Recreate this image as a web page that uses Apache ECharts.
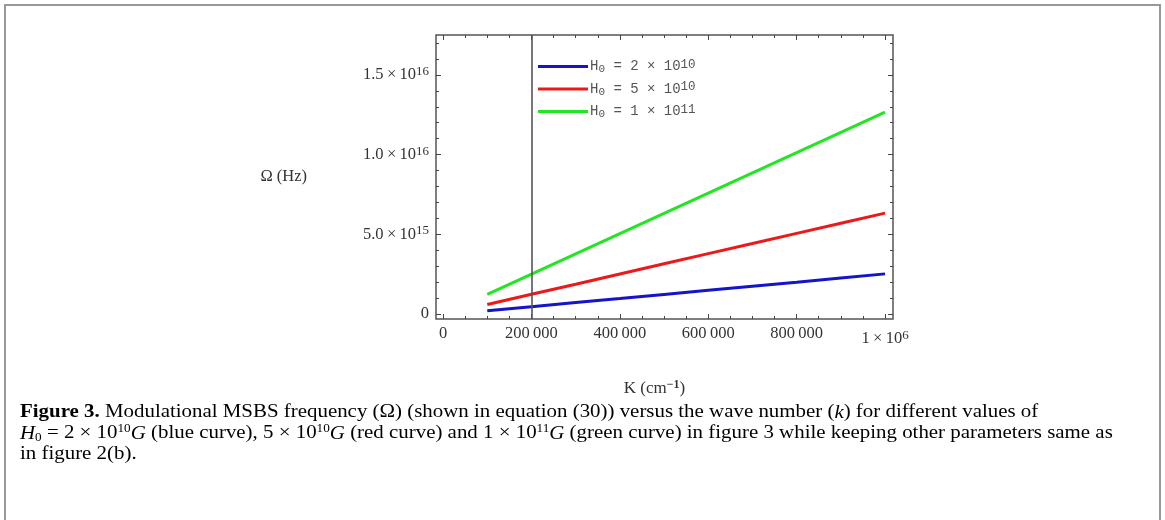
<!DOCTYPE html>
<html>
<head>
<meta charset="utf-8">
<script src="https://cdn.jsdelivr.net/npm/echarts@6/dist/echarts.min.js"></script>
<style>html,body{margin:0;padding:0;background:#fff;} #c{width:1165px;height:520px;}</style>
</head>
<body>
<div id="c"></div>
<script>
// ---- data ----
const kValues = [100000, 200000, 300000, 400000, 500000, 600000, 700000, 800000, 900000, 1000000];
const omegaBlue  = [0.20e15, 0.46e15, 0.72e15, 0.97e15, 1.23e15, 1.49e15, 1.75e15, 2.00e15, 2.26e15, 2.52e15];
const omegaRed   = [0.60e15, 1.24e15, 1.87e15, 2.51e15, 3.15e15, 3.79e15, 4.42e15, 5.06e15, 5.70e15, 6.33e15];
const omegaGreen = [1.24e15, 2.51e15, 3.78e15, 5.05e15, 6.32e15, 7.59e15, 8.86e15, 10.12e15, 11.39e15, 12.66e15];
const seriesNames = ['H0 = 2 × 10^10', 'H0 = 5 × 10^10', 'H0 = 1 × 10^11'];
const seriesColors = ['#1414c8', '#ee1818', '#22e622'];
const xMajorTicks = [0, 200000, 400000, 600000, 800000, 1000000];
const xTickLabels = ['0', '200\u2009000', '400\u2009000', '600\u2009000', '800\u2009000', '1\u2009×\u200910^6'];
const xMinorTicks = [0, 50000, 100000, 150000, 200000, 250000, 300000, 350000, 400000, 450000, 500000,
  550000, 600000, 650000, 700000, 750000, 800000, 850000, 900000, 950000, 1000000];
const yMajorTicks = [0, 5e15, 1e16, 1.5e16];
const yTickLabels = ['0', '5.0\u2009×\u200910^15', '1.0\u2009×\u200910^16', '1.5\u2009×\u200910^16'];
const yMinorTicks = [0, 1e15, 2e15, 3e15, 4e15, 5e15, 6e15, 7e15, 8e15, 9e15, 1e16,
  1.1e16, 1.2e16, 1.3e16, 1.4e16, 1.5e16, 1.6e16, 1.7e16];
const markerK = 200000;
const xRange = [-16000, 1018000];
const yRange = [-3.1e14, 1.75e16];

// ---- styling ----
const SERIF = "'Liberation Serif', 'DejaVu Serif', serif";
const MONO = "'Liberation Mono', 'DejaVu Sans Mono', monospace";
const tickColor = '#444';

function sciRich(label, m, s) {
  const p = label.split('^');
  return p.length > 1 ? '{' + m + '|' + p[0] + '}{' + s + '|' + p[1] + '}' : '{' + m + '|' + p[0] + '}';
}
function labelFor(ticks, labels, v) {
  for (let i = 0; i < ticks.length; i++) if (Math.abs(ticks[i] - v) < 1e-6 * Math.max(1, Math.abs(ticks[i]))) return labels[i];
  return '';
}

const labelRich = {
  m: { fontFamily: SERIF, fontSize: 16.5, color: '#333', lineHeight: 20 },
  s: { fontFamily: SERIF, fontSize: 13, color: '#333', lineHeight: 10, verticalAlign: 'top' },
  m6: { fontFamily: SERIF, fontSize: 16.5, color: '#333', lineHeight: 20, padding: [10, 0, 0, 0] },
  s6: { fontFamily: SERIF, fontSize: 13, color: '#333', lineHeight: 10, padding: [4, 0, 0, 0] }
};

function xAxisDef(pos, ticks, len, withLabels) {
  const a = {
    type: 'value', min: xRange[0], max: xRange[1], position: pos, gridIndex: 0,
    axisLine: { show: false, onZero: false }, splitLine: { show: false },
    axisTick: { show: true, inside: true, length: len, customValues: ticks, lineStyle: { color: tickColor, width: 1 } },
    axisLabel: { show: false }
  };
  if (withLabels) {
    a.axisLabel = {
      show: true, customValues: xMajorTicks, margin: 5, rich: labelRich,
      formatter: v => { const l = labelFor(xMajorTicks, xTickLabels, v); return l.indexOf('^') >= 0 ? sciRich(l, 'm6', 's6') : sciRich(l, 'm', 's'); }
    };
    a.name = '{n|K (cm}{s|−1}{n|)}';
    a.nameLocation = 'middle';
    a.nameGap = 60;
    a.nameTextStyle = { padding: [0, 20, 0, 0], rich: {
      n: { fontFamily: SERIF, fontSize: 17, color: '#333', lineHeight: 20 },
      s: { fontFamily: SERIF, fontSize: 12, color: '#333', lineHeight: 10, verticalAlign: 'top', fontWeight: 'bold' }
    } };
  }
  return a;
}
function yAxisDef(pos, ticks, len, withLabels) {
  const a = {
    type: 'value', min: yRange[0], max: yRange[1], position: pos, gridIndex: 0,
    axisLine: { show: false, onZero: false }, splitLine: { show: false },
    axisTick: { show: true, inside: true, length: len, customValues: ticks, lineStyle: { color: tickColor, width: 1 } },
    axisLabel: { show: false }
  };
  if (withLabels) {
    a.axisLabel = {
      show: true, customValues: yMajorTicks, margin: 7, rich: labelRich,
      formatter: v => sciRich(labelFor(yMajorTicks, yTickLabels, v), 'm', 's')
    };
    a.name = 'Ω (Hz)';
    a.nameLocation = 'middle';
    a.nameRotate = 0;
    a.nameGap = 129;
    a.nameTextStyle = { fontFamily: SERIF, fontSize: 16.5, color: '#333', align: 'right' };
  }
  return a;
}

const allOmega = [omegaBlue, omegaRed, omegaGreen];
const series = allOmega.map((arr, i) => ({
  name: seriesNames[i], type: 'line', xAxisIndex: 0, yAxisIndex: 0,
  data: kValues.map((k, j) => [k, arr[j]]),
  showSymbol: false, symbol: 'none', smooth: false,
  lineStyle: { color: seriesColors[i], width: 3 }, itemStyle: { color: seriesColors[i] },
  z: 2
}));
series[0].markLine = {
  silent: true, symbol: ['none', 'none'], label: { show: false }, animation: false,
  lineStyle: { color: '#555', width: 1.6, type: 'solid' },
  data: [{ xAxis: markerK }]
};

const caption =
  '{b|Figure 3.}{n| Modulational MSBS frequency (Ω) (shown in equation (30)) versus the wave number (}{i|k}{n|) for different values of}\n' +
  '{i|H}{sub|0}{n| = 2 × 10}{sup|10}{i|G}{n| (blue curve), 5 × 10}{sup|10}{i|G}{n| (red curve) and 1 × 10}{sup|11}{i|G}{n| (green curve) in figure }{lk|3}{n| while keeping other parameters same as}\n' +
  '{n|in figure }{lk|2}{n|(b).}';
const capSize = 19;
const capRich = {
  n: { fontFamily: SERIF, fontSize: capSize, color: '#111', lineHeight: 21 },
  b: { fontFamily: SERIF, fontSize: capSize, color: '#111', fontWeight: 'bold', lineHeight: 21 },
  i: { fontFamily: SERIF, fontSize: capSize, color: '#111', fontStyle: 'italic', lineHeight: 21 },
  lk: { fontFamily: SERIF, fontSize: capSize, color: '#2a8fd4', lineHeight: 21 },
  sup: { fontFamily: SERIF, fontSize: 12, color: '#111', lineHeight: 12, verticalAlign: 'top' },
  sub: { fontFamily: SERIF, fontSize: 12, color: '#111', lineHeight: 12, verticalAlign: 'bottom' }
};

const chart = echarts.init(document.getElementById('c'), null, { renderer: 'canvas' });
chart.setOption({
  animation: false,
  backgroundColor: '#fff',
  grid: { left: 436, top: 35, width: 457, height: 284, show: true, borderColor: '#555', borderWidth: 1.5, backgroundColor: 'transparent', containLabel: false },
  xAxis: [
    xAxisDef('bottom', xMajorTicks, 5, true),
    xAxisDef('bottom', xMinorTicks, 3, false),
    xAxisDef('top', xMajorTicks, 5, false),
    xAxisDef('top', xMinorTicks, 3, false)
  ],
  yAxis: [
    yAxisDef('left', yMajorTicks, 5, true),
    yAxisDef('left', yMinorTicks, 3, false),
    yAxisDef('right', yMajorTicks, 5, false),
    yAxisDef('right', yMinorTicks, 3, false)
  ],
  legend: {
    orient: 'vertical', left: 538, top: 58, padding: 0, icon: 'rect', itemWidth: 50, itemHeight: 3, itemGap: 5.5,
    data: seriesNames,
    textStyle: { padding: [0, 0, 0, -3], rich: {
      m: { fontFamily: MONO, fontSize: 14, color: '#555', lineHeight: 17 },
      b: { fontFamily: MONO, fontSize: 11, color: '#555', lineHeight: 10, verticalAlign: 'bottom' },
      p: { fontFamily: MONO, fontSize: 12.5, color: '#555', lineHeight: 10, verticalAlign: 'top' }
    } },
    formatter: name => {
      const parts = name.split('^');
      const base = parts[0].replace('H0', '');
      return '{m|H}{b|0}{m|' + base + '}{p|' + parts[1] + '}';
    }
  },
  series: series,
  graphic: [
    { type: 'rect', silent: true, shape: { x: 5, y: 5, width: 1155, height: 560 }, style: { fill: 'none', stroke: '#999', lineWidth: 2 } },
    { type: 'text', x: 20, y: 402, scaleX: 1.1, silent: true, style: { text: caption, rich: capRich, fontFamily: SERIF, fontSize: capSize, lineHeight: 21 } }
  ]
});
</script>
</body>
</html>
